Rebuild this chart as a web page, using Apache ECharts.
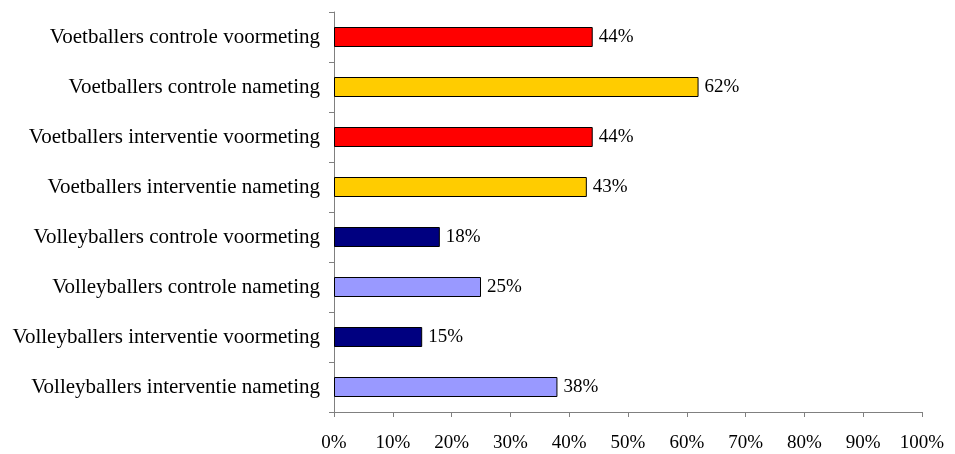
<!DOCTYPE html>
<html>
<head>
<meta charset="utf-8">
<script src="https://cdn.jsdelivr.net/npm/echarts@6/dist/echarts.min.js"></script>
<style>
  html, body { margin: 0; padding: 0; background: #fff; }
  #chart { width: 955px; height: 454px; }
</style>
</head>
<body>
<div id="chart"></div>
<script>
// Groups, top to bottom
const categories = [
  'Voetballers controle voormeting',
  'Voetballers controle nameting',
  'Voetballers interventie voormeting',
  'Voetballers interventie nameting',
  'Volleyballers controle voormeting',
  'Volleyballers controle nameting',
  'Volleyballers interventie voormeting',
  'Volleyballers interventie nameting'
];
// Percentages per group
const values = [44, 62, 44, 43, 18, 25, 15, 38];
// Fill per group
const barColors = ['#FF0000', '#FFCC00', '#FF0000', '#FFCC00', '#000080', '#9999FF', '#000080', '#9999FF'];

const font = 'Liberation Serif, Times New Roman, serif';
const axisGrey = '#808080';

const chart = echarts.init(document.getElementById('chart'));
chart.setOption({
  animation: false,
  grid: { left: 334, right: 33, top: 12, bottom: 42, containLabel: false },
  xAxis: {
    type: 'value',
    min: 0,
    max: 100,
    interval: 10,
    axisLine: { show: true, lineStyle: { color: axisGrey, width: 1 } },
    axisTick: { show: true, length: 5, lineStyle: { color: axisGrey } },
    splitLine: { show: false },
    axisLabel: {
      formatter: '{value}%',
      color: '#000',
      fontFamily: font,
      fontSize: 19,
      margin: 22
    }
  },
  yAxis: {
    type: 'category',
    data: categories,
    inverse: true,
    axisLine: { show: true, lineStyle: { color: axisGrey, width: 1 } },
    axisTick: { show: true, length: 5, alignWithLabel: false, lineStyle: { color: axisGrey } },
    axisLabel: {
      color: '#000',
      fontFamily: font,
      fontSize: 21,
      margin: 14
    }
  },
  series: [{
    type: 'bar',
    barWidth: 20,
    data: values.map((v, i) => ({
      value: v,
      itemStyle: { color: barColors[i], borderColor: '#000', borderWidth: 1 }
    })),
    label: {
      show: true,
      position: 'right',
      distance: 6,
      formatter: p => p.value + '%',
      color: '#000',
      fontFamily: font,
      fontSize: 19
    }
  }]
});
</script>
</body>
</html>
